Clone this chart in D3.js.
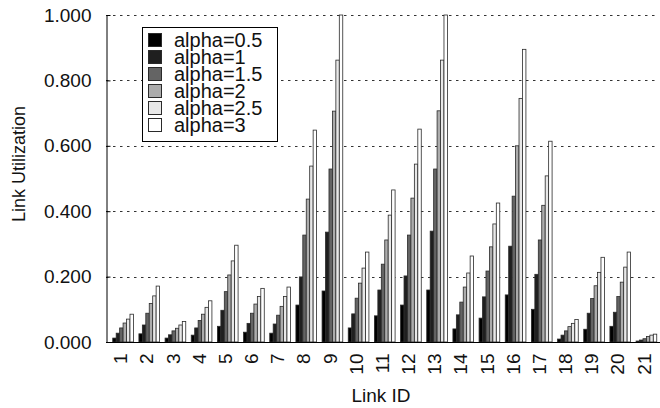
<!DOCTYPE html>
<html>
<head>
<meta charset="utf-8">
<script src="https://cdn.jsdelivr.net/npm/d3@7"></script>
<style>
  body { margin: 0; background: #fff; }
  text { font-family: "Liberation Sans", Arial, sans-serif; }
</style>
</head>
<body>
<div id="chart"></div>
<script>

// data
var links = ["1","2","3","4","5","6","7","8","9","10","11","12","13","14","15","16","17","18","19","20","21"];
var seriesNames = ["alpha=0.5", "alpha=1", "alpha=1.5", "alpha=2", "alpha=2.5", "alpha=3"];
var alpha05 = [0.012,0.025,0.012,0.021,0.048,0.030,0.027,0.113,0.156,0.043,0.080,0.113,0.159,0.040,0.073,0.144,0.100,0.009,0.039,0.048,0.003];
var alpha1  = [0.027,0.052,0.022,0.043,0.097,0.057,0.055,0.199,0.336,0.086,0.159,0.202,0.339,0.083,0.138,0.293,0.207,0.021,0.088,0.091,0.006];
var alpha15 = [0.043,0.088,0.034,0.066,0.154,0.088,0.082,0.327,0.529,0.134,0.238,0.327,0.529,0.122,0.217,0.446,0.312,0.034,0.133,0.139,0.010];
var alpha2  = [0.058,0.118,0.042,0.085,0.205,0.116,0.109,0.437,0.706,0.180,0.312,0.440,0.707,0.168,0.291,0.600,0.418,0.047,0.172,0.183,0.017];
var alpha25 = [0.070,0.141,0.052,0.106,0.248,0.139,0.139,0.538,0.862,0.226,0.388,0.544,0.862,0.211,0.361,0.745,0.508,0.057,0.213,0.229,0.021];
var alpha3  = [0.085,0.171,0.063,0.126,0.296,0.164,0.168,0.648,1.000,0.275,0.465,0.651,1.000,0.263,0.425,0.895,0.614,0.069,0.259,0.275,0.024];
var yTicks = [0, 0.2, 0.4, 0.6, 0.8, 1.0];

var allSeries = [alpha05, alpha1, alpha15, alpha2, alpha25, alpha3];
var fills = ["#000000", "#1f1f1f", "#646464", "#acacac", "#e8e8e8", "#ffffff"];

var width = 660, height = 408;
var plotLeft = 106, plotTop = 15, plotBottom = 342, plotRight = 656;

var svg = d3.select("#chart")
  .append("svg")
    .attr("width", width)
    .attr("height", height);

// scales
var x = d3.scaleBand()
  .domain(links)
  .range([110, 659.5])
  .paddingInner(0.21)
  .paddingOuter(0.105);

var x1 = d3.scaleBand()
  .domain(seriesNames)
  .range([0, x.bandwidth()]);

var y = d3.scaleLinear()
  .domain([0, 1])
  .range([plotBottom, plotTop]);

// dotted grid
svg.append("g")
  .selectAll("line")
  .data(yTicks.filter(function(d) { return d > 0; }))
  .enter()
  .append("line")
    .attr("x1", plotLeft)
    .attr("x2", plotRight)
    .attr("y1", function(d) { return Math.round(y(d)) + 0.5; })
    .attr("y2", function(d) { return Math.round(y(d)) + 0.5; })
    .attr("stroke", "#333")
    .attr("stroke-width", 1)
    .attr("stroke-dasharray", "2.5,4.5");

// bars
var rows = links.map(function(l, i) {
  return { link: l, vals: seriesNames.map(function(s, j) { return { key: s, idx: j, v: allSeries[j][i] }; }) };
});

svg.append("g")
  .selectAll("g")
  .data(rows)
  .enter()
  .append("g")
    .attr("transform", function(d) { return "translate(" + x(d.link) + ",0)"; })
  .selectAll("rect")
  .data(function(d) { return d.vals; })
  .enter()
  .append("rect")
    .attr("x", function(d) { return x1(d.key); })
    .attr("y", function(d) { return y(d.v); })
    .attr("width", x1.bandwidth())
    .attr("height", function(d) { return plotBottom - y(d.v); })
    .attr("fill", function(d) { return fills[d.idx]; })
    .attr("stroke", "#2a2a2a")
    .attr("stroke-width", 0.8);

// y axis
var yAxis = svg.append("g")
  .attr("transform", "translate(" + (plotLeft + 0.5) + ",0)")
  .call(d3.axisLeft(y).tickValues(yTicks).tickFormat(d3.format(".3f"))
    .tickSizeInner(-4).tickSizeOuter(0).tickPadding(15));
yAxis.select(".domain").attr("stroke", "#000");
yAxis.selectAll("text").style("font-size", "19px").attr("fill", "#111");

// x axis
var xAxis = svg.append("g")
  .attr("transform", "translate(0," + (plotBottom + 0.5) + ")")
  .call(d3.axisBottom(x).tickSize(0).tickSizeOuter(0));
xAxis.select(".domain").attr("d", "M" + plotLeft + ",0H" + width).attr("stroke", "#000");
xAxis.selectAll("text")
  .attr("transform", "rotate(-90)")
  .attr("x", -11)
  .attr("y", 0)
  .attr("dy", "0.22em")
  .style("text-anchor", "end")
  .style("font-size", "19px")
  .attr("fill", "#111");

// axis titles
svg.append("text")
  .attr("transform", "translate(25,164) rotate(-90)")
  .style("text-anchor", "middle")
  .style("font-size", "18px")
  .attr("fill", "#111")
  .text("Link Utilization");

svg.append("text")
  .attr("x", 381)
  .attr("y", 402)
  .style("text-anchor", "middle")
  .style("font-size", "19px")
  .attr("fill", "#111")
  .text("Link ID");

// legend
var legend = svg.append("g");
legend.append("rect")
  .attr("x", 142.5).attr("y", 27.5)
  .attr("width", 135).attr("height", 114)
  .attr("fill", "#fff")
  .attr("stroke", "#000");

var item = legend.selectAll("g.item")
  .data(seriesNames)
  .enter()
  .append("g")
    .attr("class", "item")
    .attr("transform", function(d, i) { return "translate(0," + (40 + i * 17) + ")"; });

item.append("rect")
  .attr("x", 148.5).attr("y", -6.5)
  .attr("width", 13).attr("height", 13)
  .attr("fill", function(d, i) { return fills[i]; })
  .attr("stroke", "#2a2a2a");

item.append("text")
  .attr("x", 174)
  .attr("dy", "0.35em")
  .style("font-size", "20px")
  .attr("fill", "#111")
  .text(function(d) { return d; });

</script>
</body>
</html>
